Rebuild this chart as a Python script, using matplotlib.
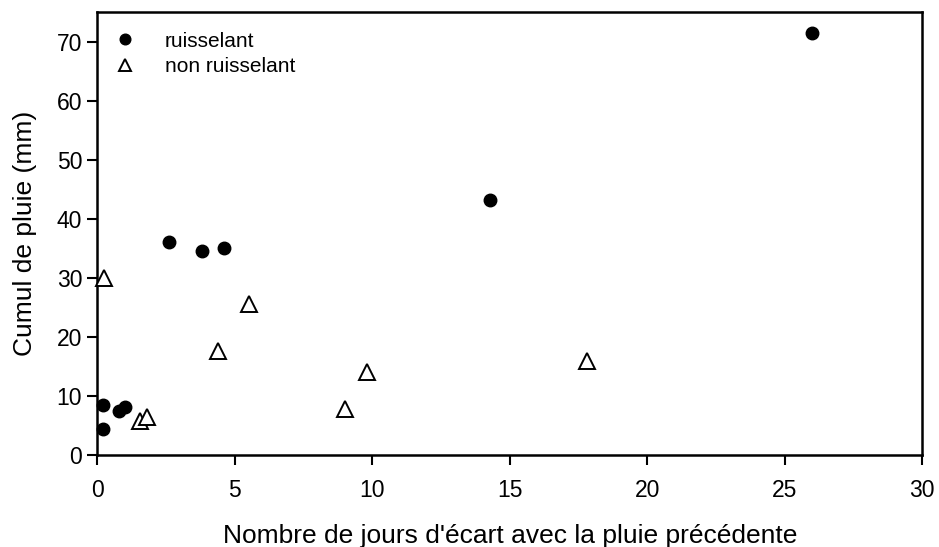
import matplotlib
matplotlib.use('Agg')
import matplotlib.pyplot as plt

# Data
ruis_x = [0.2, 0.2, 0.8, 1.0, 2.6, 3.8, 4.6, 14.3, 26.0]
ruis_y = [4.4, 8.5, 7.5, 8.1, 36.0, 34.6, 35.1, 43.2, 71.5]

non_x = [0.25, 1.55, 1.8, 4.4, 5.5, 9.0, 9.8, 17.8]
non_y = [30.0, 5.8, 6.4, 17.6, 25.5, 7.8, 14.0, 16.0]

xticks = [0, 5, 10, 15, 20, 25, 30]
yticks = [0, 10, 20, 30, 40, 50, 60, 70]

plt.rcParams['font.family'] = ['Liberation Sans', 'DejaVu Sans']

fig = plt.figure(figsize=(9.39, 5.47), dpi=100)
ax = fig.add_axes([0.1038, 0.168, 0.878, 0.810])

ax.plot(ruis_x, ruis_y, 'o', color='black', markersize=9, label='ruisselant',
        clip_on=False, zorder=3)
ax.plot(non_x, non_y, '^', markerfacecolor='white', markeredgecolor='black',
        markeredgewidth=1.4, markersize=11, label='non ruisselant',
        clip_on=False, zorder=3)

ax.set_xlim(0, 30)
ax.set_ylim(0, 75)
ax.set_xticks(xticks)
ax.set_yticks(yticks)
ax.tick_params(direction='out', length=7, width=1.5, labelsize=16.5, pad=4)
ax.tick_params(axis='x', pad=10)

for s in ax.spines.values():
    s.set_linewidth(1.8)

ax.set_xlabel("Nombre de jours d'écart avec la pluie précédente", fontsize=19, labelpad=16)
ax.set_ylabel('Cumul de pluie (mm)', fontsize=19, labelpad=14)

ax.legend(loc='upper left', bbox_to_anchor=(0.008, 0.979), frameon=False,
          fontsize=15, markerscale=0.85, handlelength=1.0, handletextpad=1.42,
          borderaxespad=0, borderpad=0.5, labelspacing=0.3)

fig.savefig('out.png', dpi=100)
